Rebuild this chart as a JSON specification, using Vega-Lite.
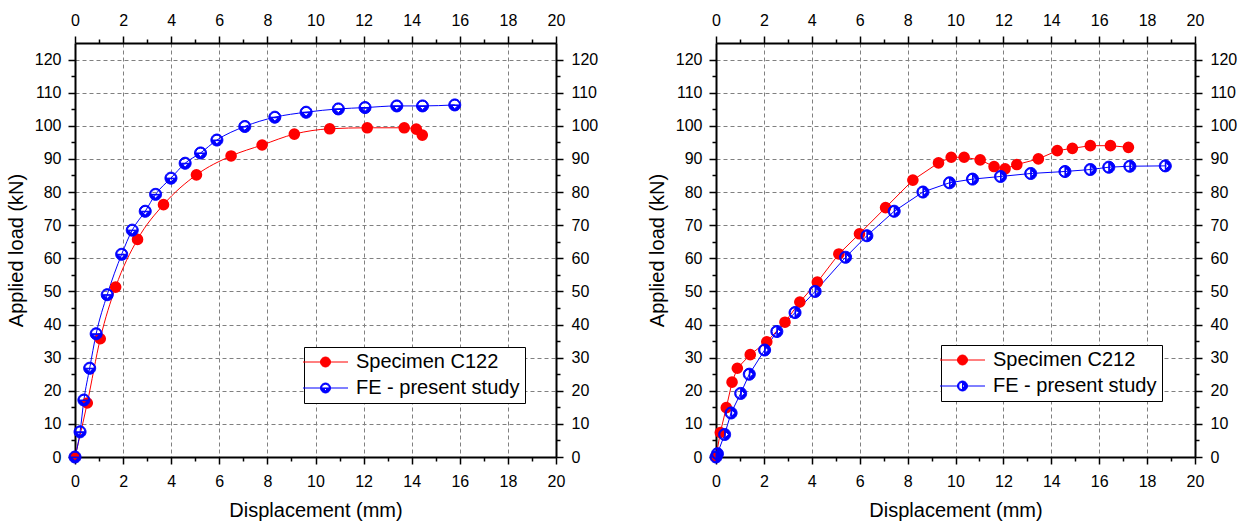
{
  "$schema": "https://vega.github.io/schema/vega-lite/v6.json",
  "padding": {"left": 6, "top": 12, "right": 5, "bottom": 5},
  "background": "white",
  "datasets": {
    "L": [
      {"series": "Specimen C122", "x": 0, "y": 0},
      {"series": "Specimen C122", "x": 0.51, "y": 16.3},
      {"series": "Specimen C122", "x": 1.05, "y": 35.7},
      {"series": "Specimen C122", "x": 1.69, "y": 51.3},
      {"series": "Specimen C122", "x": 2.6, "y": 65.7},
      {"series": "Specimen C122", "x": 3.68, "y": 76.2},
      {"series": "Specimen C122", "x": 5.05, "y": 85.2},
      {"series": "Specimen C122", "x": 6.49, "y": 90.9},
      {"series": "Specimen C122", "x": 7.78, "y": 94.2},
      {"series": "Specimen C122", "x": 9.12, "y": 97.5},
      {"series": "Specimen C122", "x": 10.59, "y": 99.1},
      {"series": "Specimen C122", "x": 12.15, "y": 99.4},
      {"series": "Specimen C122", "x": 13.69, "y": 99.4},
      {"series": "Specimen C122", "x": 14.19, "y": 99.0},
      {"series": "Specimen C122", "x": 14.44, "y": 97.2},
      {"series": "FE - present study", "x": 0, "y": 0},
      {"series": "FE - present study", "x": 0.21, "y": 7.6},
      {"series": "FE - present study", "x": 0.37, "y": 17.2},
      {"series": "FE - present study", "x": 0.61, "y": 26.8},
      {"series": "FE - present study", "x": 0.88, "y": 37.2},
      {"series": "FE - present study", "x": 1.34, "y": 49.0},
      {"series": "FE - present study", "x": 1.94, "y": 61.2},
      {"series": "FE - present study", "x": 2.38, "y": 68.5},
      {"series": "FE - present study", "x": 2.92, "y": 74.2},
      {"series": "FE - present study", "x": 3.35, "y": 79.3},
      {"series": "FE - present study", "x": 3.99, "y": 84.2},
      {"series": "FE - present study", "x": 4.58, "y": 88.7},
      {"series": "FE - present study", "x": 5.22, "y": 91.8},
      {"series": "FE - present study", "x": 5.9, "y": 95.7},
      {"series": "FE - present study", "x": 7.06, "y": 99.8},
      {"series": "FE - present study", "x": 8.31, "y": 102.6},
      {"series": "FE - present study", "x": 9.61, "y": 104.1},
      {"series": "FE - present study", "x": 10.95, "y": 105.1},
      {"series": "FE - present study", "x": 12.06, "y": 105.5},
      {"series": "FE - present study", "x": 13.38, "y": 106.0},
      {"series": "FE - present study", "x": 14.45, "y": 106.0},
      {"series": "FE - present study", "x": 15.79, "y": 106.3}
    ],
    "R": [
      {"series": "Specimen C212", "x": 0, "y": 0},
      {"series": "Specimen C212", "x": 0.18, "y": 7.4},
      {"series": "Specimen C212", "x": 0.43, "y": 14.9},
      {"series": "Specimen C212", "x": 0.67, "y": 22.6},
      {"series": "Specimen C212", "x": 0.89, "y": 26.8},
      {"series": "Specimen C212", "x": 1.43, "y": 30.9},
      {"series": "Specimen C212", "x": 2.12, "y": 34.8},
      {"series": "Specimen C212", "x": 2.88, "y": 40.7},
      {"series": "Specimen C212", "x": 3.5, "y": 46.8},
      {"series": "Specimen C212", "x": 4.23, "y": 52.8},
      {"series": "Specimen C212", "x": 5.13, "y": 61.3},
      {"series": "Specimen C212", "x": 5.99, "y": 67.4},
      {"series": "Specimen C212", "x": 7.08, "y": 75.3},
      {"series": "Specimen C212", "x": 8.22, "y": 83.6},
      {"series": "Specimen C212", "x": 9.29, "y": 88.8},
      {"series": "Specimen C212", "x": 9.82, "y": 90.5},
      {"series": "Specimen C212", "x": 10.36, "y": 90.5},
      {"series": "Specimen C212", "x": 11.03, "y": 89.7},
      {"series": "Specimen C212", "x": 11.61, "y": 87.7},
      {"series": "Specimen C212", "x": 12.07, "y": 87.0},
      {"series": "Specimen C212", "x": 12.56, "y": 88.3},
      {"series": "Specimen C212", "x": 13.46, "y": 90.0},
      {"series": "Specimen C212", "x": 14.25, "y": 92.5},
      {"series": "Specimen C212", "x": 14.88, "y": 93.2},
      {"series": "Specimen C212", "x": 15.63, "y": 94.0},
      {"series": "Specimen C212", "x": 16.47, "y": 94.0},
      {"series": "Specimen C212", "x": 17.22, "y": 93.5},
      {"series": "FE - present study", "x": 0, "y": 0},
      {"series": "FE - present study", "x": 0.06, "y": 1.0},
      {"series": "FE - present study", "x": 0.36, "y": 6.8},
      {"series": "FE - present study", "x": 0.63, "y": 13.3},
      {"series": "FE - present study", "x": 1.03, "y": 19.2},
      {"series": "FE - present study", "x": 1.39, "y": 25.0},
      {"series": "FE - present study", "x": 2.03, "y": 32.3},
      {"series": "FE - present study", "x": 2.54, "y": 37.9},
      {"series": "FE - present study", "x": 3.3, "y": 43.6},
      {"series": "FE - present study", "x": 4.14, "y": 50.0},
      {"series": "FE - present study", "x": 5.41, "y": 60.3},
      {"series": "FE - present study", "x": 6.3, "y": 66.8},
      {"series": "FE - present study", "x": 7.44, "y": 74.2},
      {"series": "FE - present study", "x": 8.64, "y": 80.0},
      {"series": "FE - present study", "x": 9.75, "y": 82.8},
      {"series": "FE - present study", "x": 10.71, "y": 83.9},
      {"series": "FE - present study", "x": 11.88, "y": 84.7},
      {"series": "FE - present study", "x": 13.14, "y": 85.6},
      {"series": "FE - present study", "x": 14.57, "y": 86.2},
      {"series": "FE - present study", "x": 15.63, "y": 86.8},
      {"series": "FE - present study", "x": 16.4, "y": 87.5},
      {"series": "FE - present study", "x": 17.28, "y": 87.8},
      {"series": "FE - present study", "x": 18.76, "y": 87.9}
    ]
  },
  "hconcat": [
    {
      "width": 481,
      "height": 414,
      "data": {"name": "L"},
      "layer": [
        {
          "transform": [{"filter": "datum.series === 'Specimen C122'"}],
          "mark": {"type": "line", "color": "#ff0000", "strokeWidth": 1, "interpolate": "monotone"},
          "encoding": {
            "x": {"field": "x", "type": "quantitative", "scale": {"domain": [0, 20], "nice": false, "zero": false},
              "axis": {"orient": "bottom", "title": "Displacement (mm)", "values": [0,1,2,3,4,5,6,7,8,9,10,11,12,13,14,15,16,17,18,19,20],
                "labelExpr": "datum.value % 2 === 0 ? datum.label : ''",
                "tickSize": {"condition": {"test": "datum.value % 2 === 0", "value": 7}, "value": 4},
                "grid": true, "gridOpacity": {"condition": {"test": "datum.value % 2 === 0", "value": 1}, "value": 0},
                "labelPadding": 9, "titlePadding": 11}},
            "y": {"field": "y", "type": "quantitative", "scale": {"domain": [0, 125], "nice": false, "zero": false},
              "axis": {"orient": "left", "title": "Applied load (kN)", "values": [0,5,10,15,20,25,30,35,40,45,50,55,60,65,70,75,80,85,90,95,100,105,110,115,120],
                "labelExpr": "datum.value % 10 === 0 ? datum.label : ''",
                "tickSize": {"condition": {"test": "datum.value % 10 === 0", "value": 7}, "value": 4},
                "grid": true, "gridOpacity": {"condition": {"test": "datum.value % 10 === 0", "value": 1}, "value": 0},
                "labelPadding": 7, "titlePadding": 8}}
          }
        },
        {
          "transform": [{"filter": "datum.series === 'FE - present study'"}],
          "mark": {"type": "line", "color": "#0000ff", "strokeWidth": 1, "interpolate": "monotone"},
          "encoding": {
            "x": {"field": "x", "type": "quantitative",
              "axis": {"orient": "top", "title": null, "values": [0,1,2,3,4,5,6,7,8,9,10,11,12,13,14,15,16,17,18,19,20],
                "labelExpr": "datum.value % 2 === 0 ? datum.label : ''",
                "tickSize": {"condition": {"test": "datum.value % 2 === 0", "value": 7}, "value": 4},
                "grid": false, "labelPadding": 8}},
            "y": {"field": "y", "type": "quantitative",
              "axis": {"orient": "right", "title": null, "values": [0,5,10,15,20,25,30,35,40,45,50,55,60,65,70,75,80,85,90,95,100,105,110,115,120],
                "labelExpr": "datum.value % 10 === 0 ? datum.label : ''",
                "tickSize": {"condition": {"test": "datum.value % 10 === 0", "value": 7}, "value": 4},
                "grid": false, "labelPadding": 8}}
          }
        },
        {
          "transform": [{"filter": "datum.series === 'Specimen C122'"}],
          "mark": {"type": "point", "shape": "circle", "filled": true, "color": "#ff0000", "size": 135, "opacity": 1},
          "encoding": {
            "x": {"field": "x", "type": "quantitative", "axis": null},
            "y": {"field": "y", "type": "quantitative", "axis": null}
          }
        },
        {
          "transform": [{"filter": "datum.series === 'FE - present study'"}],
          "mark": {"type": "point", "shape": "M1,0A1,1,0,1,1,-1,0A1,1,0,1,1,1,0ZM0.8,0A0.8,0.8,0,1,0,-0.8,0A0.8,0.8,0,1,0,0.8,0ZM-0.8,0A0.8,0.8,0,0,0,0.8,0ZM0.55,0.1L0,0.62L-0.55,0.1Z", "filled": true, "fill": "#0000ff", "stroke": "#0000ff", "strokeWidth": 1, "size": 144, "opacity": 1},
          "encoding": {
            "x": {"field": "x", "type": "quantitative", "axis": null},
            "y": {"field": "y", "type": "quantitative", "axis": null}
          }
        },
        {
          "mark": {"type": "point", "filled": true, "opacity": 0, "strokeWidth": 1},
          "encoding": {
            "x": {"field": "x", "type": "quantitative", "axis": null},
            "y": {"field": "y", "type": "quantitative", "axis": null},
            "shape": {"field": "series", "type": "nominal",
              "scale": {"domain": ["Specimen C122", "FE - present study"], "range": ["M-3.2,0L5.8,0M2.3,0A1,1,0,1,1,0.3,0A1,1,0,1,1,2.3,0Z", "M-3.2,0L0.3,0M2.3,0L5.8,0M2.3,0A1,1,0,1,1,0.3,0A1,1,0,1,1,2.3,0ZM2.05,0A0.75,0.75,0,1,0,0.55,0A0.75,0.75,0,1,0,2.05,0ZM0.55,0A0.75,0.75,0,0,0,2.05,0ZM1.72,0.08L1.3,0.5L0.88,0.08Z"]},
              "legend": {"orient": "none", "legendX": 229, "legendY": 304, "title": null}},
            "fill": {"field": "series", "type": "nominal",
              "scale": {"domain": ["Specimen C122", "FE - present study"], "range": ["#ff0000", "#0000ff"]},
              "legend": {"orient": "none", "legendX": 229, "legendY": 304, "title": null}},
            "stroke": {"field": "series", "type": "nominal",
              "scale": {"domain": ["Specimen C122", "FE - present study"], "range": ["#ff0000", "#0000ff"]},
              "legend": {"orient": "none", "legendX": 229, "legendY": 304, "title": null}}
          }
        }
      ],
      "resolve": {"axis": {"x": "independent", "y": "independent"}}
    },
    {
      "width": 479,
      "height": 414,
      "data": {"name": "R"},
      "layer": [
        {
          "transform": [{"filter": "datum.series === 'Specimen C212'"}],
          "mark": {"type": "line", "color": "#ff0000", "strokeWidth": 1},
          "encoding": {
            "x": {"field": "x", "type": "quantitative", "scale": {"domain": [0, 20], "nice": false, "zero": false},
              "axis": {"orient": "bottom", "title": "Displacement (mm)", "values": [0,1,2,3,4,5,6,7,8,9,10,11,12,13,14,15,16,17,18,19,20],
                "labelExpr": "datum.value % 2 === 0 ? datum.label : ''",
                "tickSize": {"condition": {"test": "datum.value % 2 === 0", "value": 7}, "value": 4},
                "grid": true, "gridOpacity": {"condition": {"test": "datum.value % 2 === 0", "value": 1}, "value": 0},
                "labelPadding": 9, "titlePadding": 11}},
            "y": {"field": "y", "type": "quantitative", "scale": {"domain": [0, 125], "nice": false, "zero": false},
              "axis": {"orient": "left", "title": "Applied load (kN)", "values": [0,5,10,15,20,25,30,35,40,45,50,55,60,65,70,75,80,85,90,95,100,105,110,115,120],
                "labelExpr": "datum.value % 10 === 0 ? datum.label : ''",
                "tickSize": {"condition": {"test": "datum.value % 10 === 0", "value": 7}, "value": 4},
                "grid": true, "gridOpacity": {"condition": {"test": "datum.value % 10 === 0", "value": 1}, "value": 0},
                "labelPadding": 7, "titlePadding": 8}}
          }
        },
        {
          "transform": [{"filter": "datum.series === 'FE - present study'"}],
          "mark": {"type": "line", "color": "#0000ff", "strokeWidth": 1},
          "encoding": {
            "x": {"field": "x", "type": "quantitative",
              "axis": {"orient": "top", "title": null, "values": [0,1,2,3,4,5,6,7,8,9,10,11,12,13,14,15,16,17,18,19,20],
                "labelExpr": "datum.value % 2 === 0 ? datum.label : ''",
                "tickSize": {"condition": {"test": "datum.value % 2 === 0", "value": 7}, "value": 4},
                "grid": false, "labelPadding": 8}},
            "y": {"field": "y", "type": "quantitative",
              "axis": {"orient": "right", "title": null, "values": [0,5,10,15,20,25,30,35,40,45,50,55,60,65,70,75,80,85,90,95,100,105,110,115,120],
                "labelExpr": "datum.value % 10 === 0 ? datum.label : ''",
                "tickSize": {"condition": {"test": "datum.value % 10 === 0", "value": 7}, "value": 4},
                "grid": false, "labelPadding": 8}}
          }
        },
        {
          "transform": [{"filter": "datum.series === 'Specimen C212'"}],
          "mark": {"type": "point", "shape": "circle", "filled": true, "color": "#ff0000", "size": 135, "opacity": 1},
          "encoding": {
            "x": {"field": "x", "type": "quantitative", "axis": null},
            "y": {"field": "y", "type": "quantitative", "axis": null}
          }
        },
        {
          "transform": [{"filter": "datum.series === 'FE - present study'"}],
          "mark": {"type": "point", "shape": "M1,0A1,1,0,1,1,-1,0A1,1,0,1,1,1,0ZM0.8,0A0.8,0.8,0,1,0,-0.8,0A0.8,0.8,0,1,0,0.8,0ZM0,-0.8A0.8,0.8,0,0,1,0,0.8ZM0.1,0.55L0.62,0L0.1,-0.55Z", "filled": true, "fill": "#0000ff", "stroke": "#0000ff", "strokeWidth": 1, "size": 144, "opacity": 1},
          "encoding": {
            "x": {"field": "x", "type": "quantitative", "axis": null},
            "y": {"field": "y", "type": "quantitative", "axis": null}
          }
        },
        {
          "mark": {"type": "point", "filled": true, "opacity": 0, "strokeWidth": 1},
          "encoding": {
            "x": {"field": "x", "type": "quantitative", "axis": null},
            "y": {"field": "y", "type": "quantitative", "axis": null},
            "shape": {"field": "series", "type": "nominal",
              "scale": {"domain": ["Specimen C212", "FE - present study"], "range": ["M-3.2,0L5.8,0M2.3,0A1,1,0,1,1,0.3,0A1,1,0,1,1,2.3,0Z", "M-3.2,0L0.3,0M2.3,0L5.8,0M2.3,0A1,1,0,1,1,0.3,0A1,1,0,1,1,2.3,0ZM2.05,0A0.75,0.75,0,1,0,0.55,0A0.75,0.75,0,1,0,2.05,0ZM1.3,-0.75A0.75,0.75,0,0,1,1.3,0.75ZM1.38,0.42L1.8,0L1.38,-0.42Z"]},
              "legend": {"orient": "none", "legendX": 225, "legendY": 302, "title": null}},
            "fill": {"field": "series", "type": "nominal",
              "scale": {"domain": ["Specimen C212", "FE - present study"], "range": ["#ff0000", "#0000ff"]},
              "legend": {"orient": "none", "legendX": 225, "legendY": 302, "title": null}},
            "stroke": {"field": "series", "type": "nominal",
              "scale": {"domain": ["Specimen C212", "FE - present study"], "range": ["#ff0000", "#0000ff"]},
              "legend": {"orient": "none", "legendX": 225, "legendY": 302, "title": null}}
          }
        }
      ],
      "resolve": {"axis": {"x": "independent", "y": "independent"}}
    }
  ],
  "spacing": 49,
  "resolve": {
    "scale": {"shape": "independent", "fill": "independent", "stroke": "independent"},
    "legend": {"shape": "independent", "fill": "independent", "stroke": "independent"}
  },
  "config": {
    "view": {"stroke": null},
    "font": "Liberation Sans",
    "axis": {
      "domainColor": "#000000", "domainWidth": 2, "tickColor": "#000000", "tickWidth": 1.5,
      "labelFont": "Liberation Sans", "labelFontSize": 16, "labelColor": "#000000",
      "labelFlush": false, "labelOverlap": false,
      "titleFont": "Liberation Sans", "titleFontSize": 20, "titleFontWeight": "normal", "titleColor": "#000000",
      "gridColor": "#808080", "gridDash": [4, 3], "gridWidth": 1
    },
    "legend": {
      "labelFont": "Liberation Sans", "labelFontSize": 20, "labelColor": "#000000", "labelLimit": 400,
      "strokeColor": "#000000", "fillColor": "#ffffff", "padding": 5, "rowPadding": 6,
      "symbolSize": 100, "symbolStrokeWidth": 1, "labelOffset": 27, "symbolOpacity": 1
    }
  }
}
